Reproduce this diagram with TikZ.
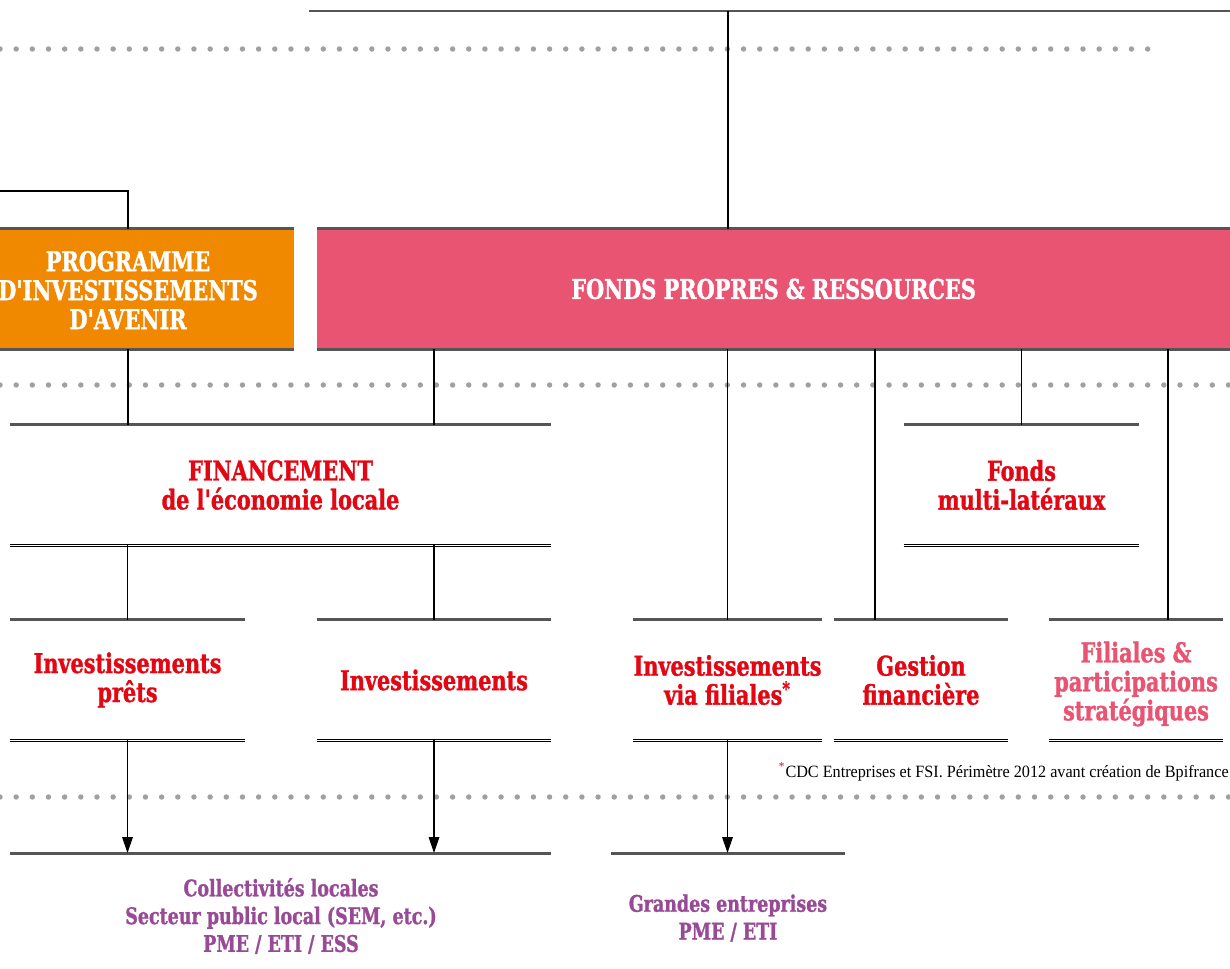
\documentclass[tikz,border=0pt]{standalone}
\usepackage{fontspec}
\usetikzlibrary{arrows.meta,calc,positioning}
\newfontfamily\slab{DejaVu Serif Condensed}[FakeStretch=0.85,FakeBold=1.2]
\newfontfamily\notefont{Liberation Serif}[FakeStretch=0.94]
\definecolor{piaorange}{RGB}{240,136,0}
\definecolor{fondspink}{RGB}{233,84,114}
\definecolor{headred}{RGB}{227,6,19}
\definecolor{clientpurple}{RGB}{152,74,150}
\definecolor{dotgrey}{RGB}{160,160,160}
\definecolor{rulegrey}{RGB}{85,85,85}
\tikzset{
  dots/.style={draw=dotgrey, line width=3.1pt, line cap=round, dash pattern=on 0pt off 9.2pt},
  toprule/.style={draw=rulegrey, line width=1.7pt},
  botrule/.style={draw=black, double=white, double distance=0.9pt, line width=0.55pt},
  link/.style={draw=black, line width=0.7pt},
  down/.style={link, -{Triangle[length=9pt,width=6pt]}},
  head/.style={font=\slab\bfseries\fontsize{15.5}{16.5}\selectfont, text=headred, align=center, inner sep=0pt},
  client/.style={font=\slab\bfseries\fontsize{13}{15.8}\selectfont, text=clientpurple, align=center, inner sep=0pt},
  band/.style={minimum height=2.4cm, inner sep=0pt},
  foot/.style={font=\notefont\fontsize{9.8}{11}\selectfont, inner sep=0pt},
}

\begin{document}
\begin{tikzpicture}[x=0.02cm,y=-0.02cm]
  \useasboundingbox (0,0) rectangle (1230,969);

  % dotted separators
  \draw[dots] (0,49) -- (1156,49);
  \draw[dots] (0,385) -- (1230,385);
  \draw[dots] (0,797) -- (1230,797);

  % top level
  \node[band, fill=piaorange, minimum width=5.88cm] (pia) at (147,289) {};
  \node[head, text=white] (piaT) at (128,290) {PROGRAMME\\D'INVESTISSEMENTS\\D'AVENIR};
  \node[band, head, text=white, fill=fondspink, minimum width=18.26cm] (fonds) at (773.5,289) {FONDS PROPRES \& RESSOURCES};
  \foreach \b in {pia,fonds}{
    \draw[toprule] (\b.north west) -- (\b.north east);
    \draw[toprule] (\b.south west) -- (\b.south east);
  }

  % second level
  \node[band, head, minimum width=10.82cm] (fin) at (280.5,485) {FINANCEMENT\\de l'économie locale};
  \node[band, head, minimum width=4.7cm] (multi) at (1021.5,485) {Fonds\\multi-latéraux};

  % third level
  \node[band, head, minimum width=4.7cm] (pret) at (127.5,680) {Investissements\\prêts};
  \node[band, head, minimum width=4.68cm] (invest) at (434,680) {Investissements};
  \node[band, head, minimum width=3.5cm] (viafil) at (727.5,680) {Investissements\\via filiales\textsuperscript{*}};
  \node[band, head, minimum width=3.48cm] (gestion) at (921,680) {Gestion\\financière};
  \node[band, minimum width=3.48cm] (filstrat) at (1136,680) {};
  \node[head, text=fondspink] (filstratT) at (1136,684) {Filiales \&\\participations\\stratégiques};
  \foreach \b in {fin,multi,pret,invest,viafil,gestion,filstrat}{
    \draw[toprule] (\b.north west) -- (\b.north east);
    \draw[botrule] (\b.south west) -- (\b.south east);
  }

  \node[foot, anchor=base east] (note) at (1229,777)
    {\textsuperscript{\color{headred}*}CDC Entreprises et FSI. Périmètre 2012 avant création de Bpifrance};

  % clients
  \node[client] (coll) at (281,916) {Collectivités locales\\Secteur public local (SEM, etc.)\\PME / ETI / ESS};
  \node[client] (grand) at (728,918) {Grandes entreprises\\PME / ETI};
  \draw[toprule] (10,853) coordinate (collL) -- (551,853);
  \draw[toprule] (611,853) coordinate (grandL) -- (845,853);

  % links
  \draw[toprule] (309,11) -- (1230,11);
  \coordinate (cap) at (728,11);
  \draw[link] (cap) -- (cap |- fonds.north);
  \draw[link] (0,191) coordinate (piaIn) -- (piaIn -| piaT) -- (piaT |- pia.north);
  \draw[link] (piaT |- pia.south) -- (piaT |- fin.north);
  \draw[link] (invest |- fonds.south) -- (invest |- fin.north);
  \draw[link] (viafil |- fonds.south) -- (viafil.north);
  \coordinate (gsIn) at (875,620);
  \coordinate (fsIn) at (1168,620);
  \draw[link] (gsIn |- fonds.south) -- (gsIn);
  \draw[link] (multi |- fonds.south) -- (multi.north);
  \draw[link] (fsIn |- fonds.south) -- (fsIn);
  \draw[link] (pret |- fin.south) -- (pret.north);
  \draw[link] (invest |- fin.south) -- (invest.north);

  \draw[down] (pret.south) -- (pret |- collL);
  \draw[down] (invest.south) -- (invest |- collL);
  \draw[down] (viafil.south) -- (viafil |- grandL);
\end{tikzpicture}
\end{document}
